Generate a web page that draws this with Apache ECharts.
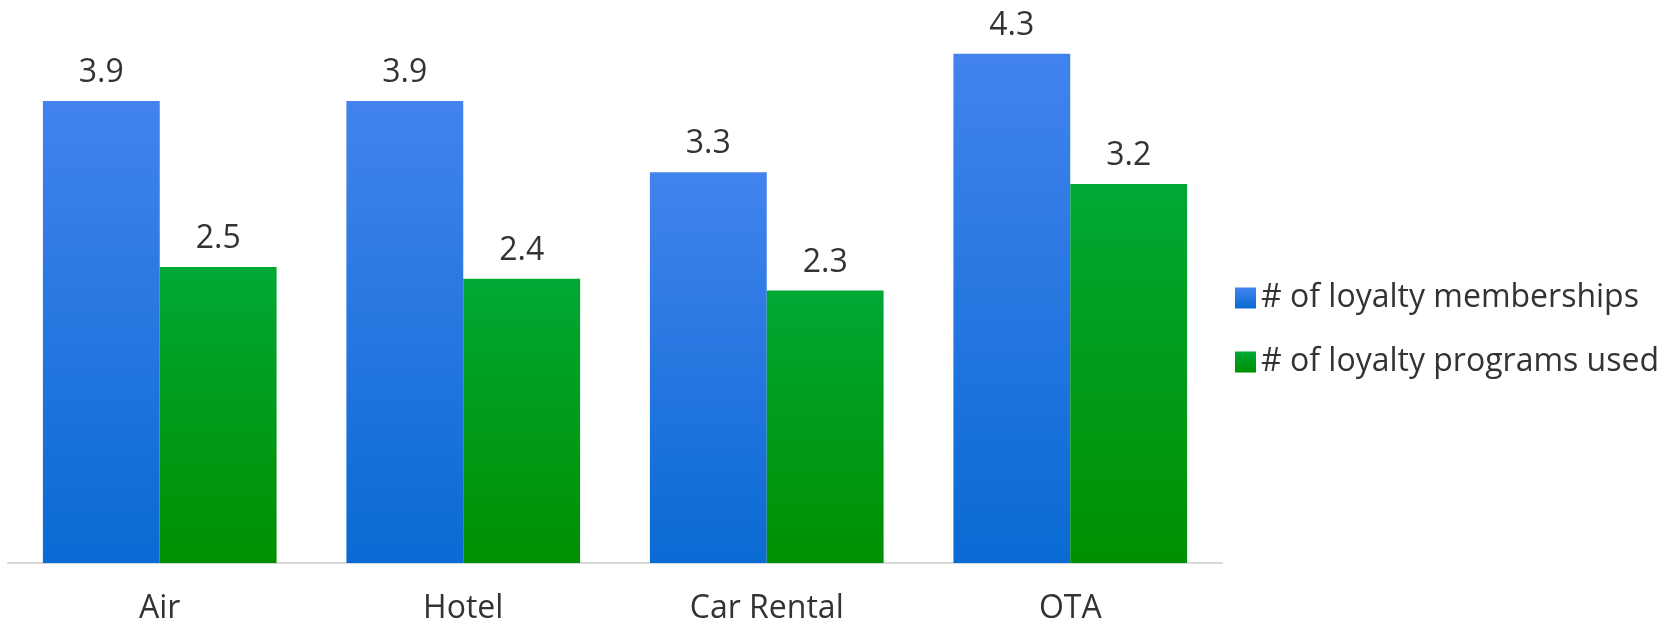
<!DOCTYPE html>
<html>
<head>
<meta charset="utf-8">
<script src="https://cdn.jsdelivr.net/npm/echarts@6/dist/echarts.min.js"></script>
<style>
  html, body { margin: 0; padding: 0; background: #ffffff; }
  #chart { width: 1674px; height: 625px; }
</style>
</head>
<body>
<div id="chart"></div>
<script>
// Loyalty program averages by travel category
const categories = ['Air', 'Hotel', 'Car Rental', 'OTA'];
const memberships = [3.9, 3.9, 3.3, 4.3];
const programsUsed = [2.5, 2.4, 2.3, 3.2];
const seriesNames = ['# of loyalty memberships', '# of loyalty programs used'];

const FONT = '"Open Sans", "Noto Sans", sans-serif';
const TEXT = '#333333';

function vgrad(top, bottom) {
  return new echarts.graphic.LinearGradient(0, 0, 0, 1, [
    { offset: 0, color: top },
    { offset: 1, color: bottom }
  ]);
}

const chart = echarts.init(document.getElementById('chart'), null, { renderer: 'canvas' });

const labelStyle = {
  show: true,
  position: 'top',
  distance: 12,
  fontFamily: FONT,
  fontSize: 32,
  color: TEXT,
  formatter: p => p.value.toFixed(1)
};

chart.setOption({
  animation: false,
  backgroundColor: '#ffffff',
  textStyle: { fontFamily: FONT },
  grid: { left: 8, top: 30, width: 1214, bottom: 60, containLabel: false },
  legend: {
    orient: 'vertical',
    left: 1230,
    top: 277,
    itemWidth: 21,
    itemHeight: 21,
    itemGap: 32,
    icon: 'rect',
    textStyle: { fontFamily: FONT, fontSize: 32, lineHeight: 32, color: TEXT },
    data: seriesNames
  },
  xAxis: {
    type: 'category',
    data: categories,
    axisLine: { show: true, lineStyle: { color: '#d9d9d9', width: 2 } },
    axisTick: { show: false },
    axisLabel: { fontFamily: FONT, fontSize: 32, color: TEXT, margin: 30 }
  },
  yAxis: {
    type: 'value',
    min: 0,
    max: 4.5,
    show: false,
    splitLine: { show: false }
  },
  series: [
    {
      name: seriesNames[0],
      type: 'bar',
      data: memberships,
      barGap: '0%',
      barCategoryGap: '23%',
      itemStyle: { color: vgrad('#4283ee', '#0a6ad3') },
      label: labelStyle
    },
    {
      name: seriesNames[1],
      type: 'bar',
      data: programsUsed,
      barGap: '0%',
      barCategoryGap: '23%',
      itemStyle: { color: vgrad('#00a834', '#008f00') },
      label: labelStyle
    }
  ]
});
</script>
</body>
</html>
